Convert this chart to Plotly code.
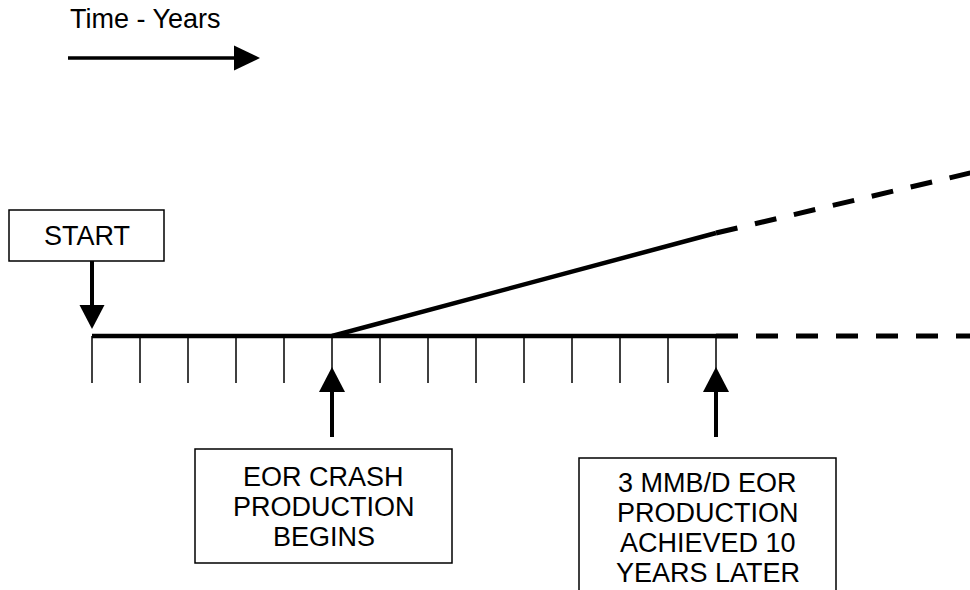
import plotly.graph_objects as go

# ---------------- data ----------------
tick_years = list(range(0, 14))              # yearly tick marks on the time line
baseline_years = [0, 13]                     # existing production line (solid)
baseline_level = [0, 0]
base_proj_years = [13, 18.3]                 # continuation (dashed)
base_proj_level = [0, 0]
eor_years = [5, 13]                          # EOR crash production ramp (solid)
eor_level = [0, 3]
eor_proj_years = [13, 18.3]                  # continuation (dashed)
eor_proj_level = [3, 4.75]

start_year = 0
eor_start_year = 5
target_year = 13

title_text = "Time - Years"
start_label = ["START"]
eor_label = ["EOR CRASH", "PRODUCTION", "BEGINS"]
target_label = ["3 MMB/D EOR", "PRODUCTION", "ACHIEVED 10", "YEARS LATER"]

# ---------------- scale helpers (pixel layout) ----------------
W, H = 970, 590
X0_PX, PX_PER_YEAR = 92, 48.0
Y0_PX, PX_PER_UNIT = 336, 103 / 3.0


def dx(p):  # pixel offset -> data x offset
    return p / PX_PER_YEAR


def dy(p):  # pixel offset (downwards) -> data y offset
    return -p / PX_PER_UNIT


def xpx(p):  # absolute pixel -> data x
    return (p - X0_PX) / PX_PER_YEAR


def ypx(p):  # absolute pixel -> data y
    return (Y0_PX - p) / PX_PER_UNIT


FONT = dict(family="Liberation Sans, Arial, sans-serif", size=27, color="black")

fig = go.Figure()

# tick marks
tx, ty = [], []
for yr in tick_years:
    tx += [yr, yr, None]
    ty += [0, dy(47), None]
fig.add_trace(go.Scatter(x=tx, y=ty, mode="lines", line=dict(color="black", width=1.5),
                         hoverinfo="skip", showlegend=False))

# baseline + projection
fig.add_trace(go.Scatter(x=baseline_years, y=baseline_level, mode="lines",
                         line=dict(color="black", width=4.5), showlegend=False))
fig.add_trace(go.Scatter(x=base_proj_years, y=base_proj_level, mode="lines",
                         line=dict(color="black", width=5, dash="22px,18px"), showlegend=False))
# EOR ramp + projection
fig.add_trace(go.Scatter(x=eor_years, y=eor_level, mode="lines",
                         line=dict(color="black", width=4.5), showlegend=False))
fig.add_trace(go.Scatter(x=eor_proj_years, y=eor_proj_level, mode="lines",
                         line=dict(color="black", width=5, dash="22px,18px"), showlegend=False))

shapes = []


def tri(x_tip, y_tip, half_w, height, up):
    """filled triangle (tip at y_tip), pixel sizes converted to data units"""
    yb = y_tip + (dy(height) if up else -dy(height))
    return dict(type="path", xref="x", yref="y",
                path=f"M {x_tip} {y_tip} L {x_tip - dx(half_w)} {yb} L {x_tip + dx(half_w)} {yb} Z",
                fillcolor="black", line=dict(color="black", width=0))


def seg(x0, y0, x1, y1, w):
    return dict(type="line", xref="x", yref="y", x0=x0, y0=y0, x1=x1, y1=y1,
                line=dict(color="black", width=w))


def box(x0, y0, x1, y1):
    return dict(type="rect", xref="x", yref="y", x0=x0, y0=y0, x1=x1, y1=y1,
                line=dict(color="black", width=1.5), fillcolor="rgba(0,0,0,0)")


# START arrow (down)
shapes.append(seg(start_year, ypx(261), start_year, ypx(307), 4))
shapes.append(tri(start_year, ypx(329), 12.5, 24, up=False))
# EOR begins arrow (up)
shapes.append(seg(eor_start_year, ypx(390), eor_start_year, ypx(437), 4))
shapes.append(tri(eor_start_year, ypx(367), 13, 25, up=True))
# target arrow (up)
shapes.append(seg(target_year, ypx(390), target_year, ypx(437), 4))
shapes.append(tri(target_year, ypx(367), 13, 25, up=True))

# Time arrow at top
shapes.append(seg(xpx(68), ypx(58), xpx(236), ypx(58), 3.5))
shapes.append(dict(type="path", xref="x", yref="y",
                   path=f"M {xpx(260)} {ypx(58)} L {xpx(234)} {ypx(45.5)} L {xpx(234)} {ypx(70.5)} Z",
                   fillcolor="black", line=dict(color="black", width=0)))

# label boxes
shapes.append(box(start_year + dx(-83), ypx(210), start_year + dx(72), ypx(261)))
shapes.append(box(eor_start_year + dx(-137), ypx(449), eor_start_year + dx(120), ypx(563)))
shapes.append(box(target_year + dx(-137), ypx(458), target_year + dx(120), ypx(600)))

annotations = []


def lines_at(xc, first_y_px, labels, spacing=30):
    for i, t in enumerate(labels):
        annotations.append(dict(x=xc, y=ypx(first_y_px + i * spacing), xref="x", yref="y",
                                text=t, showarrow=False, font=FONT,
                                xanchor="center", yanchor="middle"))


lines_at(start_year + dx(-5.5), 236, start_label)
lines_at(eor_start_year + dx(-8.5), 477, eor_label)
lines_at(target_year + dx(-8.5), 483, target_label)

annotations.append(dict(x=xpx(69), y=ypx(19), xref="x", yref="y", text=title_text,
                        showarrow=False, font=FONT, xanchor="left", yanchor="middle",
                        borderpad=0))

fig.update_layout(
    width=W, height=H,
    margin=dict(l=0, r=0, t=0, b=0),
    paper_bgcolor="white", plot_bgcolor="white",
    showlegend=False,
    shapes=shapes, annotations=annotations,
    xaxis=dict(range=[xpx(0), xpx(W)], visible=False, fixedrange=True),
    yaxis=dict(range=[ypx(H), ypx(0)], visible=False, fixedrange=True),
)

fig.write_html("out.html", config={"displayModeBar": False},
               post_script="document.body.style.margin='0';")
